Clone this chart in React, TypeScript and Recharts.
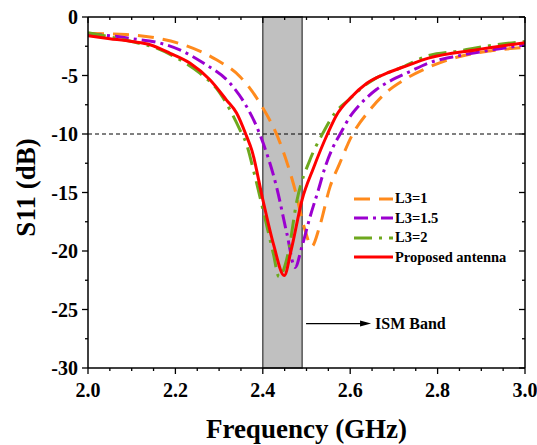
import React from "react";
import { Legend, Line, LineChart, ReferenceArea, ReferenceDot, ReferenceLine, XAxis, YAxis } from "recharts";

const serif = '"Liberation Serif", "Times New Roman", serif';
const ink = "#000";

// axis ticks (majors every 0.2 GHz / 5 dB, minors in between)
const xTicks = [2.0, 2.05, 2.1, 2.15, 2.2, 2.25, 2.3, 2.35, 2.4, 2.45, 2.5, 2.55, 2.6, 2.65, 2.7, 2.75, 2.8, 2.85, 2.9, 2.95, 3.0];
const yTicks = [-30, -27.5, -25, -22.5, -20, -17.5, -15, -12.5, -10, -7.5, -5, -2.5, 0];

// ISM band and -10 dB limit
const ismBand = [2.4, 2.49];
const limitDb = -10;
const ismLabel = "ISM Band";
const ismArrowAt = { f: 2.499, db: -26.2 };

// S11 curves
const freqL1 = [2.0, 2.088, 2.157, 2.218, 2.294, 2.348, 2.394, 2.44, 2.474, 2.495, 2.512, 2.53, 2.554, 2.575, 2.603, 2.645, 2.684, 2.722, 2.775, 2.851, 2.92, 3.0];
const s11L1 = [-1.4, -1.5, -1.8, -2.37, -3.66, -5.1, -7.4, -10.8, -14.8, -18.0, -19.6, -17.9, -14.5, -12.6, -10.2, -7.94, -6.4, -5.4, -4.37, -3.37, -2.9, -2.6];

const freqL15 = [2.0, 2.05, 2.1, 2.165, 2.218, 2.264, 2.325, 2.363, 2.386, 2.401, 2.432, 2.455, 2.474, 2.489, 2.508, 2.527, 2.542, 2.561, 2.577, 2.6, 2.622, 2.66, 2.69, 2.737, 2.779, 2.85, 2.91, 3.0];
const s11L15 = [-1.45, -1.6, -1.85, -2.23, -2.95, -3.94, -5.66, -7.66, -9.37, -10.8, -14.6, -18.5, -21.4, -19.7, -17.1, -14.8, -12.9, -11.1, -10.0, -8.5, -7.5, -6.2, -5.5, -4.66, -3.94, -3.3, -2.9, -2.4];

const freqL2 = [2.0, 2.05, 2.1, 2.157, 2.203, 2.256, 2.302, 2.325, 2.348, 2.363, 2.38, 2.4, 2.424, 2.437, 2.458, 2.478, 2.508, 2.535, 2.565, 2.596, 2.63, 2.66, 2.714, 2.779, 2.85, 2.91, 3.0];
const s11L2 = [-1.35, -1.7, -2.1, -2.66, -3.5, -4.8, -6.5, -7.94, -9.66, -10.9, -13.3, -16.4, -20.2, -22.2, -20.2, -15.7, -12.2, -10.1, -8.2, -7.1, -5.95, -5.2, -4.37, -3.3, -2.9, -2.5, -2.1];

const freqProp = [2.0, 2.05, 2.1, 2.142, 2.188, 2.233, 2.279, 2.317, 2.34, 2.363, 2.375, 2.4, 2.425, 2.449, 2.465, 2.49, 2.516, 2.548, 2.569, 2.6, 2.638, 2.684, 2.729, 2.779, 2.89, 3.0];
const s11Prop = [-1.6, -1.85, -2.1, -2.37, -3.1, -3.94, -5.37, -7.1, -8.2, -10.2, -11.4, -15.6, -19.5, -22.1, -19.9, -15.6, -12.9, -10.0, -8.37, -6.94, -5.66, -4.8, -4.17, -3.52, -2.8, -2.2];

const toPoints = (freq: number[], s11: number[]) => freq.map((f, i) => ({ f, s: s11[i] }));

const series = [
  { name: "L3=1", color: "#ff8a1c", dash: "16 9", data: toPoints(freqL1, s11L1) },
  { name: "L3=1.5", color: "#9b00d0", dash: "14 5 3 5", data: toPoints(freqL15, s11L15) },
  { name: "L3=2", color: "#6ea81e", dash: "18 7 3 7", data: toPoints(freqL2, s11L2) },
  { name: "Proposed antenna", color: "#ff0000", dash: undefined as string | undefined, data: toPoints(freqProp, s11Prop) },
];

const isMajorX = (v: number) => Math.abs(v * 5 - Math.round(v * 5)) < 1e-6;
const isMajorY = (v: number) => v % 5 === 0;

function BottomTick({ x, y, payload }: any) {
  const major = isMajorX(payload.value);
  return (
    <g>
      <line x1={x} y1={y} x2={x} y2={y + (major ? 6 : 3)} stroke={ink} strokeWidth={1.3} />
      {major && (
        <text x={x} y={y + 29} textAnchor="middle" fontFamily={serif} fontWeight="bold" fontSize={20} fill={ink}>
          {payload.value.toFixed(1)}
        </text>
      )}
    </g>
  );
}

function TopTick({ x, y, payload }: any) {
  const major = isMajorX(payload.value);
  return <line x1={x} y1={y} x2={x} y2={y + (major ? 6 : 3)} stroke={ink} strokeWidth={1.3} />;
}

function LeftTick({ x, y, payload }: any) {
  const major = isMajorY(payload.value);
  return (
    <g>
      <line x1={x} y1={y} x2={x - (major ? 6 : 3)} y2={y} stroke={ink} strokeWidth={1.3} />
      {major && (
        <text x={x - 10} y={y + 7} textAnchor="end" fontFamily={serif} fontWeight="bold" fontSize={20} fill={ink}>
          {payload.value}
        </text>
      )}
    </g>
  );
}

function RightTick({ x, y, payload }: any) {
  const major = isMajorY(payload.value);
  return <line x1={x} y1={y} x2={x - (major ? 6 : 3)} y2={y} stroke={ink} strokeWidth={1.3} />;
}

function IsmArrow({ cx, cy }: any) {
  return (
    <g>
      <line x1={cx} y1={cy} x2={cx + 56} y2={cy} stroke={ink} strokeWidth={1.3} />
      <polygon points={`${cx + 54},${cy - 3} ${cx + 65},${cy} ${cx + 54},${cy + 3}`} fill={ink} />
      <text x={cx + 69} y={cy + 5.5} fontFamily={serif} fontWeight="bold" fontSize={16} fill={ink}>
        {ismLabel}
      </text>
    </g>
  );
}

function LegendBox() {
  return (
    <div style={{ fontFamily: serif, fontWeight: "bold", fontSize: 14.5, lineHeight: "19.5px" }}>
      {series.map((s) => (
        <div key={s.name} style={{ display: "flex", alignItems: "center", height: 19.5 }}>
          <svg width={42} height={12} style={{ display: "block" }}>
            <line x1={1} y1={6} x2={40} y2={6} stroke={s.color} strokeWidth={3.2} strokeDasharray={s.dash} />
          </svg>
          <span style={{ color: ink, whiteSpace: "nowrap" }}>{s.name}</span>
        </div>
      ))}
    </div>
  );
}

export default function App() {
  return (
    <div style={{ position: "absolute", left: 0, top: 0, background: "#fff" }}>
      <LineChart width={537} height={445} margin={{ top: 16, right: 11, bottom: 76, left: 87 }}>
        <XAxis
          xAxisId="b"
          type="number"
          dataKey="f"
          domain={[2, 3]}
          ticks={xTicks}
          interval={0}
          height={1}
          tickSize={0}
          tickMargin={0}
          tickLine={false}
          tick={<BottomTick />}
          axisLine={{ stroke: ink, strokeWidth: 1.5 }}
          allowDataOverflow
          label={{
            content: ({ viewBox }: any) => (
              <text x={viewBox.x + viewBox.width / 2} y={viewBox.y + 70} textAnchor="middle" fontFamily={serif} fontWeight="bold" fontSize={27} fill={ink}>
                Frequency (GHz)
              </text>
            ),
          }}
        />
        <XAxis
          xAxisId="t"
          orientation="top"
          type="number"
          dataKey="f"
          domain={[2, 3]}
          ticks={xTicks}
          interval={0}
          height={1}
          tickSize={0}
          tickMargin={0}
          tickLine={false}
          tick={<TopTick />}
          axisLine={{ stroke: ink, strokeWidth: 1.5 }}
          allowDataOverflow
        />
        <YAxis
          yAxisId="l"
          type="number"
          domain={[-30, 0]}
          ticks={yTicks}
          interval={0}
          width={1}
          tickSize={0}
          tickMargin={0}
          tickLine={false}
          tick={<LeftTick />}
          axisLine={{ stroke: ink, strokeWidth: 1.5 }}
          allowDataOverflow
          label={{
            content: ({ viewBox }: any) => {
              const lx = viewBox.x - 52;
              const ly = viewBox.y + viewBox.height / 2 - 5;
              return (
                <text x={lx} y={ly} transform={`rotate(-90, ${lx}, ${ly})`} textAnchor="middle" fontFamily={serif} fontWeight="bold" fontSize={27} fill={ink}>
                  S11 (dB)
                </text>
              );
            },
          }}
        />
        <YAxis
          yAxisId="r"
          orientation="right"
          type="number"
          domain={[-30, 0]}
          ticks={yTicks}
          interval={0}
          width={1}
          tickSize={0}
          tickMargin={0}
          tickLine={false}
          tick={<RightTick />}
          axisLine={{ stroke: ink, strokeWidth: 1.5 }}
          allowDataOverflow
        />
        <ReferenceLine xAxisId="b" yAxisId="l" y={limitDb} stroke={ink} strokeWidth={1} strokeDasharray="4 3" />
        <ReferenceArea
          xAxisId="b"
          yAxisId="l"
          x1={ismBand[0]}
          x2={ismBand[1]}
          y1={-30}
          y2={0}
          fill="#c0c0c0"
          fillOpacity={1}
          stroke="#555"
          strokeWidth={1.5}
        />
        <ReferenceDot xAxisId="b" yAxisId="l" x={ismArrowAt.f} y={ismArrowAt.db} r={0} shape={(p: any) => <IsmArrow cx={p.cx} cy={p.cy} />} />
        {series.map((s) => (
          <Line
            key={s.name}
            xAxisId="b"
            yAxisId="l"
            data={s.data}
            dataKey="s"
            name={s.name}
            type="monotone"
            stroke={s.color}
            strokeWidth={3}
            strokeDasharray={s.dash}
            dot={false}
            activeDot={false}
            isAnimationActive={false}
          />
        ))}
        <Legend
          layout="horizontal"
          verticalAlign="middle"
          align="center"
          content={() => <LegendBox />}
          wrapperStyle={{ left: 353, top: 189, width: 180, height: 80 }}
        />
      </LineChart>
    </div>
  );
}
